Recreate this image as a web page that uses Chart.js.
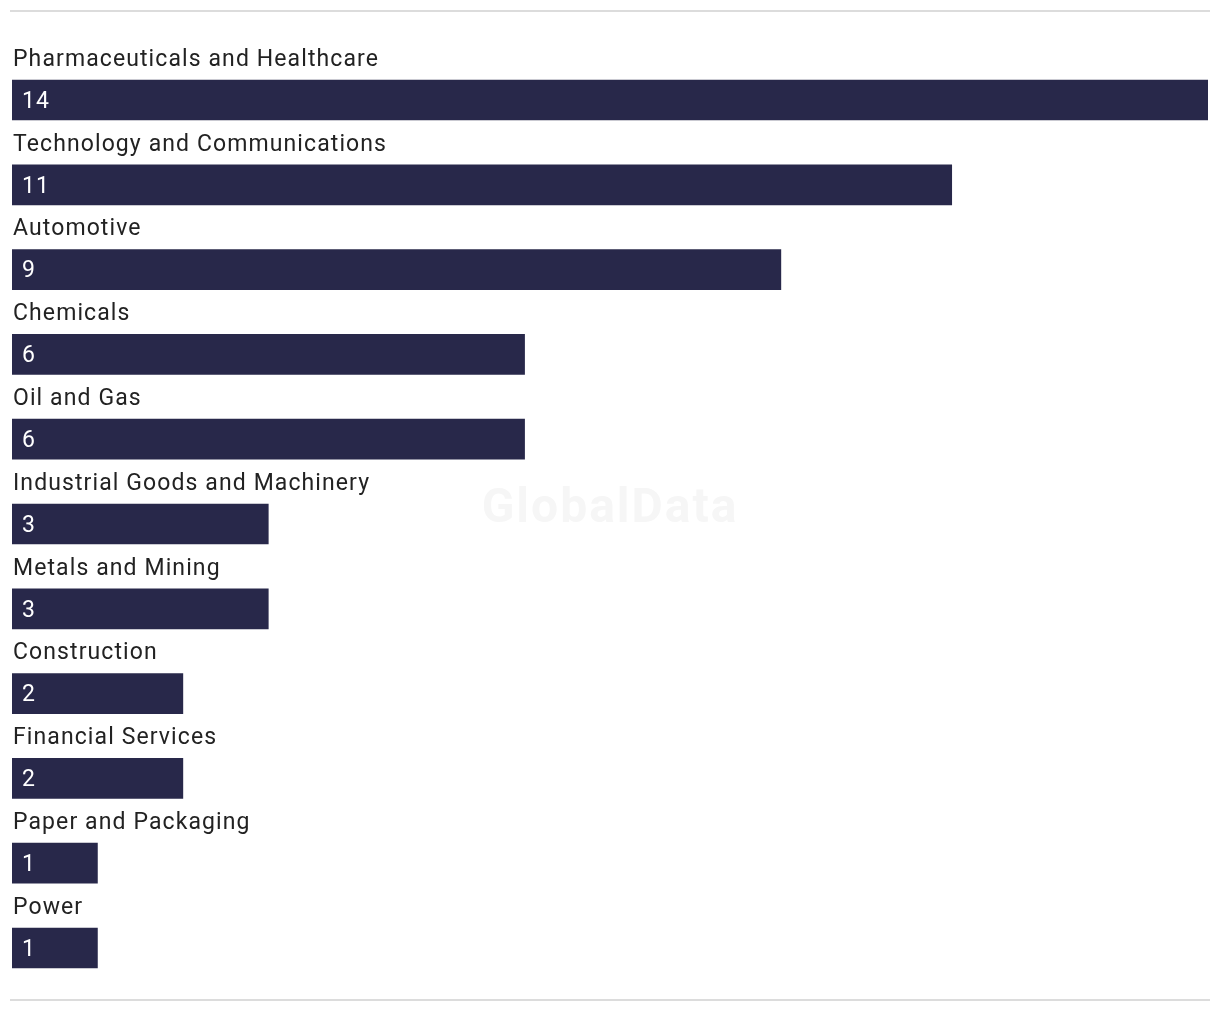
<!DOCTYPE html>
<html>
<head>
<meta charset="utf-8">
<script src="https://cdn.jsdelivr.net/npm/chart.js@4"></script>
<style>
	html, body { margin: 0; padding: 0; background: #ffffff; }
	#wrap { position: relative; width: 1220px; height: 1014px; }
</style>
</head>
<body>
<div id="wrap"><canvas id="myChart"></canvas></div>
<script>
// Chart data
const sectors = [
	"Pharmaceuticals and Healthcare",
	"Technology and Communications",
	"Automotive",
	"Chemicals",
	"Oil and Gas",
	"Industrial Goods and Machinery",
	"Metals and Mining",
	"Construction",
	"Financial Services",
	"Paper and Packaging",
	"Power"
];
const deals = [14, 11, 9, 6, 6, 3, 3, 2, 2, 1, 1];

const FONT = "Roboto, 'Liberation Sans', sans-serif";

// draws frame lines, watermark, sector names and values
const labelPlugin = {
	id: "labels",
	beforeDraw: function (chart) {
		const ctx = chart.ctx;
		ctx.save();
		ctx.fillStyle = "#dcdcdc";
		ctx.fillRect(10, 10, 1200, 2);
		ctx.fillRect(10, 999, 1200, 2);
		ctx.font = "bold 48px " + FONT;
		ctx.letterSpacing = "2px";
		ctx.fillStyle = "#f6f6f6";
		ctx.textAlign = "center";
		ctx.textBaseline = "middle";
		ctx.fillText("GlobalData", 610, 510);
		ctx.restore();
	},
	afterDatasetsDraw: function (chart) {
		const ctx = chart.ctx;
		const meta = chart.getDatasetMeta(0);
		ctx.save();
		ctx.font = "23px " + FONT;
		ctx.letterSpacing = "1.1px";
		ctx.textBaseline = "middle";
		ctx.textAlign = "left";
		meta.data.forEach((bar, i) => {
			ctx.fillStyle = "#222222";
			ctx.fillText(sectors[i], 13, bar.y - 40);
			ctx.fillStyle = "#ffffff";
			ctx.fillText(String(deals[i]), 22, bar.y + 2);
		});
		ctx.restore();
	}
};

var ctx = document.getElementById("myChart").getContext("2d");
var chart = new Chart(ctx, {
	type: "bar",
	data: {
		labels: sectors,
		datasets: [
			{
				data: deals,
				backgroundColor: "#28284a",
				borderWidth: 0,
				barThickness: 40
			}
		]
	},
	options: {
		indexAxis: "y",
		responsive: true,
		maintainAspectRatio: false,
		animation: false,
		layout: {
			padding: { left: 12, right: 12, top: 57.6, bottom: 23.6 }
		},
		scales: {
			x: { display: false, min: 0, max: 14 },
			y: { display: false }
		},
		plugins: {
			legend: { display: false },
			tooltip: { enabled: false }
		}
	},
	plugins: [labelPlugin]
});
</script>
</body>
</html>
